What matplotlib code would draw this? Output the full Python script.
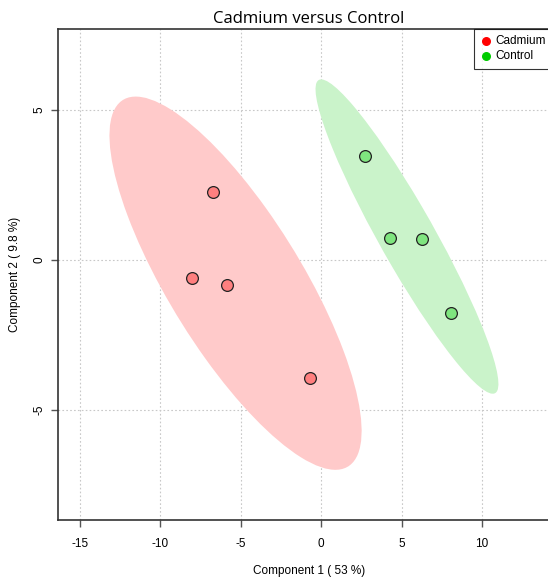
import numpy as np
import matplotlib
matplotlib.use('Agg')
import matplotlib.pyplot as plt
from matplotlib.patches import Ellipse

# PLS-DA style scores
groups = ['Cadmium', 'Control']
cad_x = [-6.7, -8.0, -5.85, -0.7]
cad_y = [2.27, -0.6, -0.82, -3.95]
ctl_x = [2.72, 4.3, 6.27, 8.05]
ctl_y = [3.47, 0.72, 0.70, -1.77]
xticks = [-15, -10, -5, 0, 5, 10]
yticks = [-5, 0, 5]

plt.rcParams['font.family'] = ['Liberation Sans', 'DejaVu Sans']

fig = plt.figure(figsize=(5.48, 5.82), dpi=100)
ax = fig.add_axes([58 / 548, 62 / 582, 502 / 548, 491 / 582])


def conf_ellipse(x, y, color):
    # 95% confidence region from the group covariance
    pts = np.column_stack([x, y])
    cov = np.cov(pts, rowvar=False)
    vals, vecs = np.linalg.eigh(cov)
    order = vals.argsort()[::-1]
    vals, vecs = vals[order], vecs[:, order]
    t = np.sqrt(-2 * np.log(0.05))
    ang = np.degrees(np.arctan2(vecs[1, 0], vecs[0, 0]))
    e = Ellipse(pts.mean(axis=0), 2 * t * np.sqrt(vals[0]), 2 * t * np.sqrt(vals[1]),
                angle=ang, facecolor=color, edgecolor='none', zorder=1)
    ax.add_patch(e)


conf_ellipse(cad_x, cad_y, '#ffcaca')
conf_ellipse(ctl_x, ctl_y, '#caf3ca')

ax.scatter(cad_x, cad_y, s=72, c='#ff7f7f', edgecolors='#222222', linewidths=0.9, zorder=3)
ax.scatter(ctl_x, ctl_y, s=72, c='#7fe57f', edgecolors='#222222', linewidths=0.9, zorder=3)

ax.set_xlim(-16.34, 14.84)
ax.set_ylim(-8.67, 7.7)
ax.set_xticks(xticks)
ax.set_yticks(yticks)
ax.set_xticklabels([str(v) for v in xticks])
ax.set_yticklabels([str(v) for v in yticks], rotation=90, va='center')
ax.grid(True, color='#c8c8c8', linestyle=(0, (1.5, 2)), linewidth=0.8, zorder=0)
ax.set_axisbelow(True)
for s in ax.spines.values():
    s.set_color('#333333')
    s.set_linewidth(1.2)
ax.tick_params(axis='both', length=5, width=1, color='#555555', labelsize=8.5)
ax.tick_params(axis='x', pad=8)
ax.tick_params(axis='y', pad=4)

ax.set_xlabel('Component 1 ( 53 %)', fontsize=8.5, labelpad=11)
ax.set_ylabel('Component 2 ( 9.8 %)', fontsize=8.5, va='center')
ax.yaxis.set_label_coords(-43 / 502, 0.5)
ax.set_title('Cadmium versus Control', fontsize=12, pad=4, family=['Open Sans', 'DejaVu Sans'])

h1 = ax.scatter([], [], s=30, c='red')
h2 = ax.scatter([], [], s=30, c='#00cc00')
leg = ax.legend([h1, h2], groups, loc='upper left', bbox_to_anchor=(474 / 548, 1 - 29 / 582),
                bbox_transform=fig.transFigure, fontsize=8.5, frameon=True, fancybox=False,
                handletextpad=0.3, borderpad=0.55, labelspacing=0.25, handlelength=1.0,
                borderaxespad=0)
leg.get_frame().set_edgecolor('black')
leg.get_frame().set_linewidth(0.8)

plt.savefig('out.png', dpi=100)
